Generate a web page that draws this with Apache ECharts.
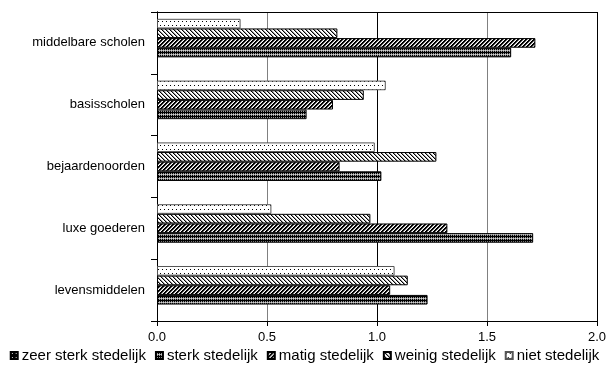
<!DOCTYPE html>
<html>
<head>
<meta charset="utf-8">
<script src="https://cdn.jsdelivr.net/npm/echarts@6/dist/echarts.min.js"></script>
<style>
html,body{margin:0;padding:0;background:#fff;}
#c{width:609px;height:369px;}
</style>
</head>
<body>
<div id="c"></div>
<script>
// Categories listed bottom to top
var categories = ['levensmiddelen', 'luxe goederen', 'bejaardenoorden', 'basisscholen', 'middelbare scholen'];
var seriesNames = ['zeer sterk stedelijk', 'sterk stedelijk', 'matig stedelijk', 'weinig stedelijk', 'niet stedelijk'];
var zeerSterk = [null, null, null, null, null];
var sterk     = [1.23, 1.71, 1.02, 0.68, 1.61];
var matig     = [1.06, 1.32, 0.83, 0.80, 1.72];
var weinig    = [1.14, 0.97, 1.27, 0.94, 0.82];
var niet      = [1.08, 0.52, 0.99, 1.04, 0.38];
var xTicks = [0, 0.5, 1.0, 1.5, 2.0];

function tile(w, h, fn) {
  var c = document.createElement('canvas');
  c.width = w; c.height = h;
  var ctx = c.getContext('2d');
  for (var y = 0; y < h; y++) for (var x = 0; x < w; x++) {
    ctx.fillStyle = fn(x, y);
    ctx.fillRect(x, y, 1, 1);
  }
  return { image: c, repeat: 'repeat' };
}
var K = '#000', W = '#fff', G = '#9a9a9a';
var pZeer = tile(4, 4, function (x, y) { return (x === 1 && y === 1) ? W : K; });
var pSterk = tile(4, 4, function (x, y) {
  if (y === 0) return K;
  if (y === 2) return (x % 2 === 0) ? G : '#d0d0d0';
  return (x % 2 === 0) ? K : G;
});
var pMatig = tile(4, 4, function (x, y) {
  var m = (x + y) % 4;
  return m < 2 ? K : (m === 2 ? G : W);
});
var pWeinig = tile(4, 4, function (x, y) {
  var m = (x - y + 8) % 4;
  return m === 0 ? K : (m === 1 ? G : W);
});
var pNiet = tile(4, 8, function (x, y) {
  return ((x === 0 && y === 1) || (x === 2 && y === 5)) ? K : W;
});

var patterns = [pZeer, pSterk, pMatig, pWeinig, pNiet];
var dataSets = [zeerSterk, sterk, matig, weinig, niet];
var borders = ['#000', '#000', '#000', '#000', '#555'];

var font = '"Liberation Sans", Arial, sans-serif';
var series = [];
// ECharts places the first series at the top of each band; Excel order is bottom-up
for (var i = seriesNames.length - 1; i >= 0; i--) {
  series.push({
    name: seriesNames[i],
    type: 'bar',
    data: dataSets[i],
    barGap: '0%',
    barCategoryGap: '22%',
    itemStyle: { color: patterns[i], borderColor: borders[i], borderWidth: 1 },
    emphasis: { disabled: true },
    animation: false
  });
}

var chart = echarts.init(document.getElementById('c'), null, { renderer: 'canvas' });
chart.setOption({
  animation: false,
  backgroundColor: '#fff',
  grid: { left: 157, right: 12, top: 12, bottom: 48 },
  xAxis: [{
    type: 'value', min: 0, max: 2, interval: 0.5,
    axisLine: { show: true, lineStyle: { color: '#000', width: 1 } },
    axisTick: { show: true, length: 5, lineStyle: { color: '#000' } },
    axisLabel: { margin: 10, color: '#000', fontSize: 13, fontFamily: font,
      formatter: function (v) { return v.toFixed(1); } },
    splitLine: { show: true, lineStyle: { color: ['#000', '#808080', '#000', '#808080', '#000'], width: 1 } }
  }, {
    type: 'value', min: 0, max: 2, position: 'top',
    axisLine: { show: true, lineStyle: { color: '#000', width: 1 } },
    axisTick: { show: false }, axisLabel: { show: false }, splitLine: { show: false }
  }],
  yAxis: [{
    type: 'category', data: categories,
    axisLine: { show: true, lineStyle: { color: '#000', width: 1 } },
    axisTick: { show: true, length: 6, lineStyle: { color: '#000' } },
    axisLabel: { margin: 12, color: '#000', fontSize: 13, fontFamily: font }
  }, {
    type: 'category', data: categories, position: 'right',
    axisLine: { show: true, lineStyle: { color: '#000', width: 1 } },
    axisTick: { show: false }, axisLabel: { show: false }, splitLine: { show: false }
  }],
  legend: {
    data: seriesNames,
    left: 'center', bottom: 1,
    itemWidth: 7, itemHeight: 7, itemGap: 9,
    icon: 'rect',
    textStyle: { color: '#000', fontSize: 15, fontFamily: font, padding: [0, 0, 0, -1] },
    selectedMode: false
  },
  series: series
});
</script>
</body>
</html>
